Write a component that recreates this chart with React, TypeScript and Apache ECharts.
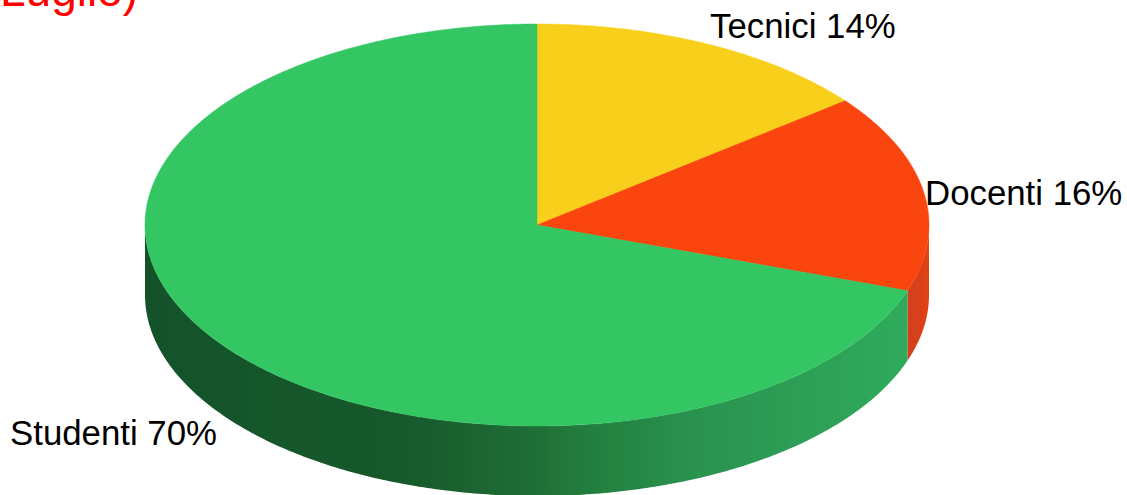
import React, { useEffect, useRef } from "react";
import * as echarts from "echarts";

const categories = ["Tecnici", "Docenti", "Studenti"];
const values = [14.4, 15.9, 69.7];
const labels = ["Tecnici 14%", "Docenti 16%", "Studenti 70%"];
const colors = ["#f8d01c", "#fb450e", "#33c662"];
const titleFragment = "Luglio)";

const CX = 537, CY = 225, RX = 392, RY = 201, DEPTH = 70;
const labelPos: [number, number][] = [[710, 8], [925, 175], [10, 415]];

const pt = (a: number, dy = 0): [number, number] => [CX + RX * Math.sin(a), CY - RY * Math.cos(a) + dy];
const arc = (a0: number, a1: number, dy = 0) => {
  const n = Math.max(2, Math.ceil(Math.abs(a1 - a0) * 90));
  const out: [number, number][] = [];
  for (let i = 0; i <= n; i++) out.push(pt(a0 + ((a1 - a0) * i) / n, dy));
  return out;
};

const sideFills = [
  "#d9a818",
  new echarts.graphic.LinearGradient(907, 0, 929, 0, [
    { offset: 0, color: "#d2401f" },
    { offset: 0.6, color: "#d8401a" },
    { offset: 1, color: "#e4420f" },
  ], true),
  new echarts.graphic.LinearGradient(145, 0, 907, 0, [
    { offset: 0, color: "#14532a" },
    { offset: 0.34, color: "#17592b" },
    { offset: 0.5, color: "#1f6c36" },
    { offset: 0.6, color: "#238240" },
    { offset: 0.73, color: "#2a9350" },
    { offset: 1, color: "#2fab5b" },
  ], true),
];

export default function App() {
  const ref = useRef<HTMLDivElement>(null);
  useEffect(() => {
    const chart = echarts.init(ref.current!, null, { renderer: "svg" });
    const total = values.reduce((a, b) => a + b, 0);
    const renderItem = (params: any, api: any) => {
      const i = params.dataIndex;
      let before = 0;
      for (let k = 0; k < i; k++) before += values[k];
      const a0 = (before / total) * Math.PI * 2;
      const a1 = a0 + (api.value(0) / total) * Math.PI * 2;
      const children: any[] = [];
      // visible wall: the part of the rim on the near half of the ellipse
      const s0 = Math.max(a0, Math.PI / 2);
      const s1 = Math.min(a1, (Math.PI * 3) / 2);
      if (s1 > s0) {
        children.push({
          type: "polygon",
          shape: { points: [...arc(s0, s1), ...arc(s1, s0, DEPTH)] },
          style: { fill: sideFills[i] },
        });
      }
      children.push({
        type: "polygon",
        shape: { points: [[CX, CY], ...arc(a0, a1)] },
        style: { fill: colors[i], stroke: colors[i], lineWidth: 0.5 },
      });
      return { type: "group", children };
    };
    const labelItem = (params: any) => {
      const i = params.dataIndex;
      return {
        type: "text",
        x: labelPos[i][0],
        y: labelPos[i][1],
        style: {
          text: labels[i],
          fontFamily: "Liberation Sans",
          fontSize: 34.8,
          fill: "#000000",
          align: "left",
          verticalAlign: "top",
        },
      };
    };
    chart.setOption({
      animation: false,
      backgroundColor: "#ffffff",
      graphic: [
        {
          type: "text",
          x: 0,
          y: -33,
          style: {
            text: titleFragment,
            fontFamily: "Liberation Sans",
            fontSize: 46,
            fill: "#ff0000",
            align: "left",
            verticalAlign: "top",
          },
        },
      ],
      series: [
        {
          type: "custom",
          coordinateSystem: "none",
          renderItem,
          data: categories.map((name, i) => ({ name, value: [values[i]] })),
          silent: true,
          z: 1,
        },
        {
          type: "custom",
          coordinateSystem: "none",
          renderItem: labelItem,
          data: categories.map((name, i) => ({ name, value: [values[i]] })),
          silent: true,
          z: 2,
        },
      ],
    });
    return () => chart.dispose();
  }, []);
  return <div ref={ref} style={{ position: "fixed", left: 0, top: 0, width: 1127, height: 495 }} />;
}
